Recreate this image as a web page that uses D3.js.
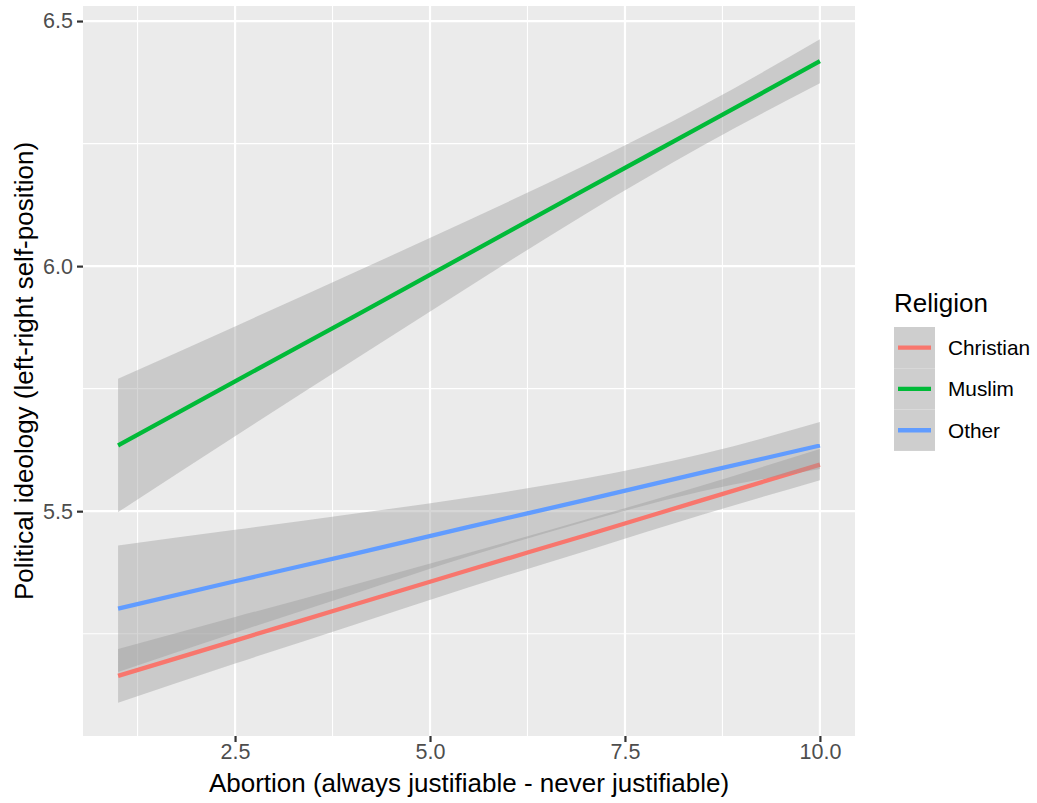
<!DOCTYPE html>
<html>
<head>
<meta charset="utf-8">
<script src="https://cdn.jsdelivr.net/npm/d3@7/dist/d3.min.js"></script>
<style>
  html, body { margin: 0; padding: 0; background: #ffffff; }
  svg text { font-family: "Liberation Sans", Arial, Helvetica, sans-serif; }
</style>
</head>
<body>
<svg id="chart" width="1037" height="803"></svg>
<script>
// Abortion attitude positions where the fitted lines and bands are sampled
const abortionX = [1, 2.5, 4, 5.5, 7, 8.5, 10];

// Religion groups and their colours
const religions = ["Christian", "Muslim", "Other"];
const colors = ["#F8766D", "#00BA38", "#619CFF"];

// Fitted political ideology (linear fit) per group
const christianFit   = [5.164, 5.236, 5.308, 5.380, 5.451, 5.523, 5.595];
const christianLower = [5.109, 5.189, 5.267, 5.345, 5.419, 5.493, 5.563];
const christianUpper = [5.219, 5.284, 5.349, 5.415, 5.483, 5.553, 5.627];

const muslimFit   = [5.634, 5.765, 5.895, 6.026, 6.157, 6.287, 6.418];
const muslimLower = [5.498, 5.653, 5.806, 5.958, 6.107, 6.246, 6.373];
const muslimUpper = [5.770, 5.877, 5.985, 6.094, 6.207, 6.328, 6.463];

const otherFit   = [5.301, 5.357, 5.412, 5.468, 5.523, 5.579, 5.634];
const otherLower = [5.172, 5.252, 5.330, 5.408, 5.479, 5.541, 5.586];
const otherUpper = [5.430, 5.462, 5.494, 5.528, 5.567, 5.617, 5.682];

// Axis ticks
const xMajor = [2.5, 5.0, 7.5, 10.0];
const xMinor = [1.25, 3.75, 6.25, 8.75];
const yMajor = [5.5, 6.0, 6.5];
const yMinor = [5.25, 5.75, 6.25];

const fits = [christianFit, muslimFit, otherFit];
const lowers = [christianLower, muslimLower, otherLower];
const uppers = [christianUpper, muslimUpper, otherUpper];

const svg = d3.select("#chart");
const panel = { left: 83, right: 855, top: 6, bottom: 736 };

// Continuous scales with 5% expansion on both sides
const xExt = d3.extent(abortionX);
const xPad = (xExt[1] - xExt[0]) * 0.05;
const x = d3.scaleLinear().domain([xExt[0] - xPad, xExt[1] + xPad]).range([panel.left, panel.right]);

const yMin = d3.min(lowers.flat()), yMax = d3.max(uppers.flat());
const yPad = (yMax - yMin) * 0.05;
const y = d3.scaleLinear().domain([yMin - yPad, yMax + yPad]).range([panel.bottom, panel.top]);

// Panel background
svg.append("rect")
  .attr("x", panel.left).attr("y", panel.top)
  .attr("width", panel.right - panel.left).attr("height", panel.bottom - panel.top)
  .attr("fill", "#EBEBEB");

const grid = svg.append("g");
// Minor grid
grid.selectAll(".xmin").data(xMinor).enter().append("line")
  .attr("x1", d => x(d)).attr("x2", d => x(d))
  .attr("y1", panel.top).attr("y2", panel.bottom)
  .attr("stroke", "#ffffff").attr("stroke-width", 1.1);
grid.selectAll(".ymin").data(yMinor).enter().append("line")
  .attr("y1", d => y(d)).attr("y2", d => y(d))
  .attr("x1", panel.left).attr("x2", panel.right)
  .attr("stroke", "#ffffff").attr("stroke-width", 1.1);
// Major grid
grid.selectAll(".xmaj").data(xMajor).enter().append("line")
  .attr("x1", d => x(d)).attr("x2", d => x(d))
  .attr("y1", panel.top).attr("y2", panel.bottom)
  .attr("stroke", "#ffffff").attr("stroke-width", 2.2);
grid.selectAll(".ymaj").data(yMajor).enter().append("line")
  .attr("y1", d => y(d)).attr("y2", d => y(d))
  .attr("x1", panel.left).attr("x2", panel.right)
  .attr("stroke", "#ffffff").attr("stroke-width", 2.2);

// Confidence bands and fitted lines, drawn group by group
const area = d3.area()
  .x(d => x(d.x)).y0(d => y(d.lo)).y1(d => y(d.hi))
  .curve(d3.curveMonotoneX);
const line = d3.line()
  .x(d => x(d.x)).y(d => y(d.fit))
  .curve(d3.curveMonotoneX);

religions.forEach((r, i) => {
  const rows = abortionX.map((xv, j) => ({ x: xv, fit: fits[i][j], lo: lowers[i][j], hi: uppers[i][j] }));
  svg.append("path").datum(rows)
    .attr("d", area)
    .attr("fill", "#999999").attr("fill-opacity", 0.4);
  svg.append("path").datum(rows)
    .attr("d", line)
    .attr("fill", "none")
    .attr("stroke", colors[i]).attr("stroke-width", 4.3);
});

// Axes
const xAxis = d3.axisBottom(x).tickValues(xMajor).tickFormat(d3.format(".1f")).tickSize(6).tickPadding(2);
const gx = svg.append("g").attr("transform", `translate(0,${panel.bottom})`).call(xAxis);
const yAxis = d3.axisLeft(y).tickValues(yMajor).tickFormat(d3.format(".1f")).tickSize(6).tickPadding(4);
const gy = svg.append("g").attr("transform", `translate(${panel.left},0)`).call(yAxis);

[gx, gy].forEach(g => {
  g.select(".domain").remove();
  g.selectAll(".tick line").attr("stroke", "#333333").attr("stroke-width", 2.2);
  g.selectAll(".tick text")
    .attr("fill", "#4D4D4D")
    .style("font-size", "21.5px")
    .style("font-family", "'Liberation Sans', Arial, sans-serif");
});

// Axis titles
svg.append("text")
  .attr("x", (panel.left + panel.right) / 2).attr("y", 792)
  .attr("text-anchor", "middle")
  .style("font-size", "26px").attr("fill", "#000000")
  .text("Abortion (always justifiable - never justifiable)");

svg.append("text")
  .attr("transform", `translate(33,${(panel.top + panel.bottom) / 2}) rotate(-90)`)
  .attr("text-anchor", "middle")
  .style("font-size", "26px").attr("fill", "#000000")
  .text("Political ideology (left-right self-position)");

// Legend
const lg = svg.append("g").attr("transform", "translate(894,0)");
lg.append("text")
  .attr("x", 0).attr("y", 312)
  .style("font-size", "26px").attr("fill", "#000000")
  .text("Religion");

const keyH = 41.3, keyTop = 327, keyW = 41;
religions.forEach((r, i) => {
  const ky = keyTop + i * keyH;
  lg.append("rect")
    .attr("x", 0).attr("y", ky).attr("width", keyW).attr("height", keyH)
    .attr("fill", "#F2F2F2");
  lg.append("rect")
    .attr("x", 0).attr("y", ky).attr("width", keyW).attr("height", keyH)
    .attr("fill", "#999999").attr("fill-opacity", 0.4);
  lg.append("line")
    .attr("x1", 4).attr("x2", keyW - 4)
    .attr("y1", ky + keyH / 2).attr("y2", ky + keyH / 2)
    .attr("stroke", colors[i]).attr("stroke-width", 4.3);
  lg.append("text")
    .attr("x", 54).attr("y", ky + keyH / 2)
    .attr("dy", "0.35em")
    .style("font-size", "20.8px").attr("fill", "#000000")
    .text(r);
});
</script>
</body>
</html>
